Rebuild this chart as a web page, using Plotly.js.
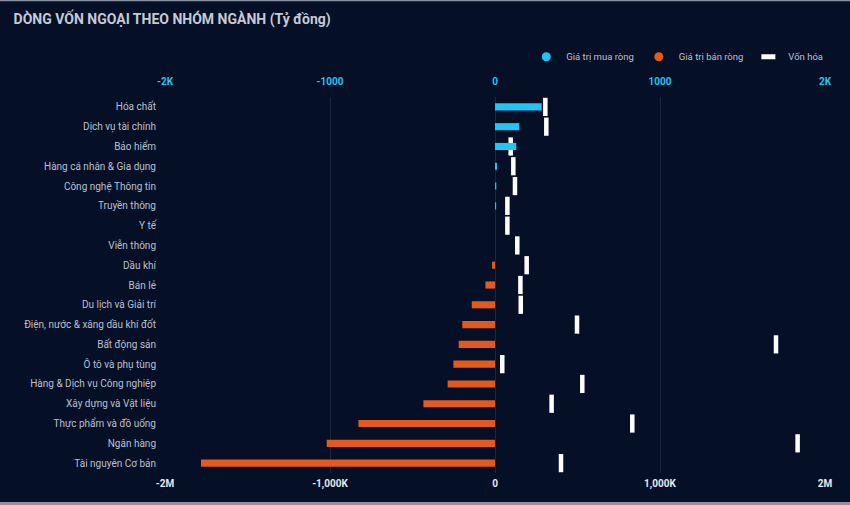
<!DOCTYPE html>
<html>
<head>
<meta charset="utf-8">
<script src="https://cdn.plot.ly/plotly-3.0.1.min.js"></script>
<style>
html,body{margin:0;padding:0;background:#050f26;}
#chart{width:850px;height:505px;}
</style>
</head>
<body>
<div id="chart"></div>
<script>
const categories = [
  "Hóa chất","Dịch vụ tài chính","Bảo hiểm","Hàng cá nhân & Gia dụng","Công nghệ Thông tin",
  "Truyền thông","Y tế","Viễn thông","Dầu khí","Bán lẻ","Du lịch và Giải trí",
  "Điện, nước & xăng dầu khí đốt","Bất động sản","Ô tô và phụ tùng","Hàng & Dịch vụ Công nghiệp",
  "Xây dựng và Vật liệu","Thực phẩm và đồ uống","Ngân hàng","Tài nguyên Cơ bản"
];
// Net foreign flow (tỷ đồng)
const netValue = [283,147,129,12,8,7,0,0,-18,-58,-141,-198,-220,-252,-287,-434,-828,-1020,-1782];
// Market cap (vốn hóa)
const marketCap = [305000,311000,95000,111000,121000,75000,75000,135000,192000,154000,156000,497000,1703000,44000,529000,343000,832000,1834000,400000];

const topTickVals = [-2000,-1000,0,1000,2000];
const topTickText = ["-2K","-1000","0","1000","2K"];
const botTickVals = [-2000000,-1000000,0,1000000,2000000];
const botTickText = ["-2M","-1,000K","0","1,000K","2M"];

const buyVals = netValue.map(v => v > 0 ? v : null);
const sellVals = netValue.map(v => v < 0 ? v : null);

const CYAN = "#22c3f5", ORANGE = "#e45a1c";
const fontFam = "Roboto, 'Noto Sans', sans-serif";

const traces = [
  {type:"bar", orientation:"h", y:categories, x:buyVals, xaxis:"x2", yaxis:"y",
   marker:{color:CYAN}, width:0.36, showlegend:false, hoverinfo:"x+y"},
  {type:"bar", orientation:"h", y:categories, x:sellVals, xaxis:"x2", yaxis:"y",
   marker:{color:ORANGE}, width:0.36, showlegend:false, hoverinfo:"x+y"},
  {type:"scatter", mode:"markers", y:categories, x:marketCap, xaxis:"x", yaxis:"y",
   marker:{symbol:"line-ns", size:13, line:{width:4.5, color:"#ffffff"}, color:"#ffffff"},
   showlegend:false},
  // legend entries
  {type:"scatter", mode:"markers", x:[null], y:[null], xaxis:"x", yaxis:"y", name:"Giá trị mua ròng",
   marker:{symbol:"circle", size:9, color:CYAN}},
  {type:"scatter", mode:"markers", x:[null], y:[null], xaxis:"x", yaxis:"y", name:"Giá trị bán ròng",
   marker:{symbol:"circle", size:9, color:ORANGE}},
  {type:"scatter", mode:"markers", x:[null], y:[null], xaxis:"x", yaxis:"y", name:"Vốn hóa",
   marker:{symbol:"line-ew", size:10, line:{width:5, color:"#ffffff"}}}
];

const layout = {
  width:850, height:505,
  paper_bgcolor:"#050f26", plot_bgcolor:"#050f26",
  margin:{l:165, r:25, t:97, b:32},
  font:{family:fontFam, color:"#b9c1d1", size:10},
  title:{text:"<b>DÒNG VỐN NGOẠI THEO NHÓM NGÀNH (Tỷ đồng)</b>", x:0.016, xanchor:"left",
         y:0.963, yanchor:"middle", font:{family:fontFam, size:14, color:"#c5cad6"}},
  barmode:"overlay",
  showlegend:true,
  legend:{orientation:"h", x:1.005, xanchor:"right", y:1.107, yanchor:"middle",
          bgcolor:"rgba(0,0,0,0)", font:{size:9.5, color:"#b9c1d1"}, itemwidth:30,
          tracegroupgap:0},
  xaxis:{range:[-2000000,2000000], tickvals:botTickVals, ticktext:botTickText,
         showgrid:true, gridcolor:"#1a2640", gridwidth:1, zeroline:false,
         tickfont:{size:10, color:"#e6e9ef", family:fontFam, weight:"bold"}, fixedrange:true,
         showline:false, ticklabelstandoff:3},
  xaxis2:{range:[-2000,2000], overlaying:"x", side:"top", tickvals:topTickVals, ticktext:topTickText,
          showgrid:false, zeroline:false, tickfont:{size:10, color:CYAN, family:fontFam, weight:"bold"},
          ticklabelstandoff:9, showline:false},
  yaxis:{type:"category", categoryorder:"array", categoryarray:categories, range:[18.5,-0.5],
         autorange:false, showgrid:false, zeroline:false, tickfont:{size:10, color:"#b9c1d1"},
         ticklabelstandoff:8},
  shapes:[
    {type:"line", xref:"paper", yref:"paper", x0:-0.3, x1:1.1, y0:1.2585, y1:1.2585, line:{color:"#8a93a3", width:3}},
    {type:"line", xref:"paper", yref:"paper", x0:-0.3, x1:1.1, y0:-0.081, y1:-0.081, line:{color:"#8a93a3", width:3}}
  ]
};

Plotly.newPlot("chart", traces, layout, {displayModeBar:false, staticPlot:true});
</script>
</body>
</html>
